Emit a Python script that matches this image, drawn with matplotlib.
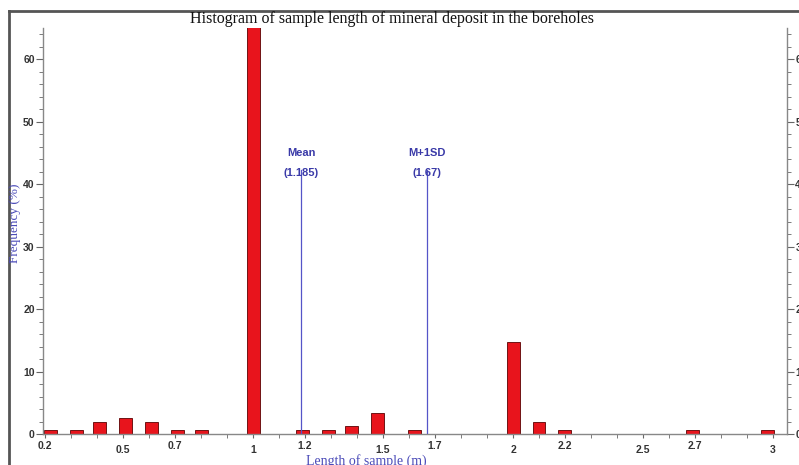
import matplotlib.pyplot as plt
from matplotlib.lines import Line2D
from matplotlib.ticker import MultipleLocator

# sample length (m) and frequency (%)
lengths = [0.22, 0.32, 0.41, 0.51, 0.61, 0.71, 0.80, 1.0, 1.19, 1.29, 1.38, 1.48,
           1.62, 2.0, 2.1, 2.2, 2.69, 2.98]
freq = [0.7, 0.7, 2.0, 2.6, 2.0, 0.7, 0.7, 66, 0.7, 0.7, 1.3, 3.4,
        0.7, 14.7, 2.0, 0.7, 0.7, 0.7]

xtick_vals = [0.2, 0.5, 0.7, 1, 1.2, 1.5, 1.7, 2, 2.2, 2.5, 2.7, 3]
xtick_labels = ["0.2", "0.5", "0.7", "1", "1.2", "1.5", "1.7", "2", "2.2", "2.5", "2.7", "3"]

stat_names = ["Mean", "M+1SD"]
stat_vals = [1.185, 1.67]

W, H = 799, 465
fig = plt.figure(figsize=(W / 100, H / 100), dpi=100)
ax = fig.add_axes([43 / W, (H - 434) / H, (787 - 43) / W, (434 - 28) / H])

ax.bar(lengths, freq, width=0.05, color="#e8141c", edgecolor="#5a0000", linewidth=0.6, zorder=2)

ax.set_xlim(0.192, 3.054)
ax.set_ylim(0, 65)

# mean / sd lines
for name, v in zip(stat_names, stat_vals):
    ax.plot([v, v], [0, 42.3], color="#5555c8", linewidth=0.9, zorder=3)
    ax.text(v, 45.0, name, ha="center", va="center", fontsize=8, color="#3a3aa8",
            fontweight="bold", family="Liberation Sans")
    ax.text(v, 41.8, "(%g)" % v, ha="center", va="center", fontsize=8, color="#3a3aa8",
            fontweight="bold", family="Liberation Sans")

ax.spines["top"].set_visible(False)
for side in ["left", "right", "bottom"]:
    ax.spines[side].set_color("#888888")
    ax.spines[side].set_linewidth(1.0)

ax.yaxis.set_major_locator(MultipleLocator(10))
ax.yaxis.set_minor_locator(MultipleLocator(2))
ax.tick_params(axis="y", which="both", left=True, right=True, labelleft=True,
               labelright=True, direction="out", colors="#666666", labelcolor="#333333",
               labelsize=7.5)
ax.tick_params(axis="y", which="major", length=5, pad=1)
ax.tick_params(axis="y", which="minor", length=3)

ax.set_xticks(xtick_vals, xtick_labels)
ax.xaxis.set_minor_locator(MultipleLocator(0.1))
ax.tick_params(axis="x", which="both", direction="out", length=3, colors="#666666",
               labelcolor="#333333", labelsize=7.5, pad=2)
for t, lab in zip(ax.xaxis.get_major_ticks(), xtick_labels):
    if lab in ("0.5", "1", "1.5", "2", "2.5", "3"):
        t.set_pad(5)
for lab in ax.get_xticklabels() + ax.get_yticklabels():
    lab.set_family("Liberation Sans")
    lab.set_fontweight("bold")

fig.text(366 / W, 1 - 461 / H, "Length of sample (m)", ha="center", va="center",
         fontsize=10, color="#4a4ab8", family="Liberation Serif")
fig.text(15 / W, 1 - 223 / H, "Frequency (%)", ha="center", va="center", rotation=90,
         fontsize=9.5, color="#4a4ab8", family="Liberation Serif")
fig.text(392 / W, 1 - 19 / H, "Histogram of sample length of mineral deposit in the boreholes",
         ha="center", va="center", fontsize=11.5, color="#111111", family="Liberation Serif")

# outer panel border
fig.add_artist(Line2D([9 / W, 1.0], [1 - 11 / H, 1 - 11 / H], color="#555555", linewidth=2))
fig.add_artist(Line2D([9 / W, 9 / W], [0, 1 - 11 / H], color="#555555", linewidth=2))

fig.savefig("out.png", dpi=100)
